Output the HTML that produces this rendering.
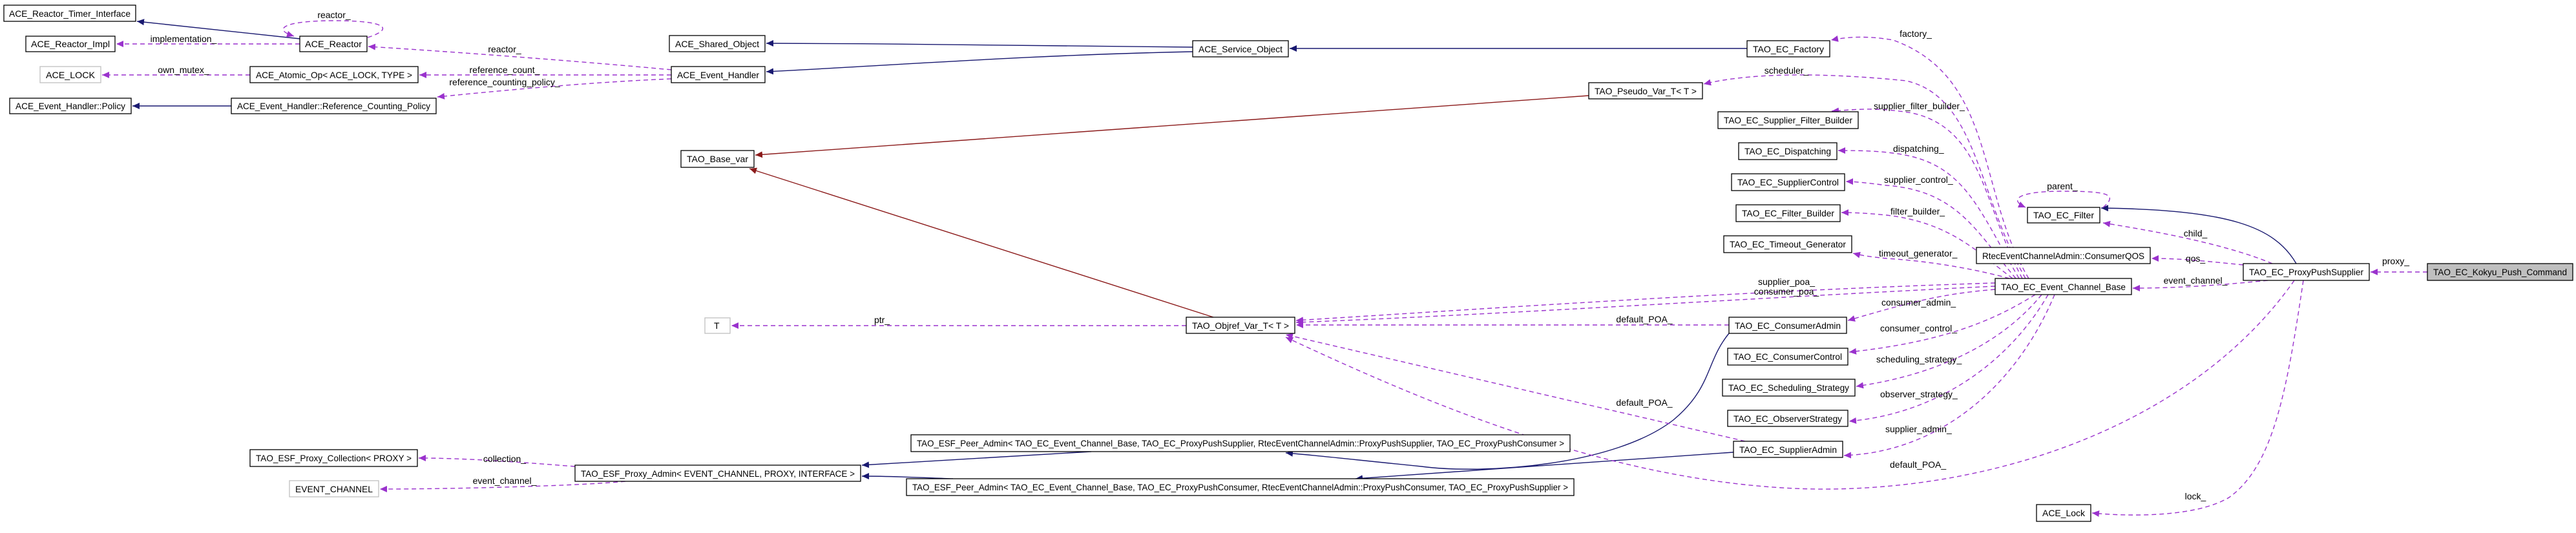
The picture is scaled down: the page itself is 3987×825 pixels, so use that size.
<!DOCTYPE html>
<html><head><meta charset="utf-8"><style>
html,body{margin:0;padding:0;background:#fff;}
svg{display:block;}
text{font-family:"Liberation Sans",sans-serif;font-size:14px;fill:#000;}
.b{fill:#fff;stroke:#000;stroke-width:1.3;}
.g{fill:#fff;stroke:#bfbfbf;stroke-width:1.3;}
.n{fill:none;stroke:#191970;stroke-width:1.4;}
.r{fill:none;stroke:#8b1a1a;stroke-width:1.4;}
.p{fill:none;stroke:#9a32cd;stroke-width:1.4;stroke-dasharray:7,5;}
</style></head><body>
<svg width="3987" height="825" viewBox="0 0 3987 825" xmlns="http://www.w3.org/2000/svg">
<defs>
<marker id="mn" markerUnits="userSpaceOnUse" markerWidth="12" markerHeight="10" refX="11" refY="5" orient="auto"><path d="M0,0 L11,5 L0,10 Z" fill="#191970"/></marker>
<marker id="mr" markerUnits="userSpaceOnUse" markerWidth="12" markerHeight="10" refX="11" refY="5" orient="auto"><path d="M0,0 L11,5 L0,10 Z" fill="#8b1a1a"/></marker>
<marker id="mp" markerUnits="userSpaceOnUse" markerWidth="12" markerHeight="10" refX="11" refY="5" orient="auto"><path d="M0,0 L11,5 L0,10 Z" fill="#9a32cd"/></marker>
</defs>

<!-- navy edges -->
<g class="n" marker-end="url(#mn)">
<path d="M464,60 L212,33"/>
<path d="M358,164 L205,164"/>
<path d="M1846,73 C1600,72 1400,67 1186,67"/>
<path d="M1846,80 C1600,85 1400,100 1186,111"/>
<path d="M2704,75 L1996,75"/>
<path d="M2676,516 C2640,560 2650,600 2590,650 C2500,720 2300,735 2200,722 C2100,712 2040,705 1990,701"/>
<path d="M2683,700 L2098,741"/>
<path d="M1689,699 L1334,720"/>
<path d="M1475,741 C1420,739 1380,737 1334,737"/>
<path d="M3554,408 C3520,350 3450,325 3252,322"/>
</g>
<!-- red edges -->
<g class="r" marker-end="url(#mr)">
<path d="M2459,148 L1169,240"/>
<path d="M1878,491 L1160,261"/>
</g>
<!-- purple dashed edges -->
<g class="p" marker-end="url(#mp)">
<path d="M464,68 L180,68"/>
<path d="M569,58 C610,45 600,32 517,32 C440,32 420,45 455,56"/>
<path d="M1039,108 C900,95 700,80 570,72"/>
<path d="M387,116 L158,116"/>
<path d="M1039,116 L649,116"/>
<path d="M1039,122 C900,128 780,140 677,150"/>
<path d="M1836,504 L1132,504"/>
<path d="M3088,438 C2700,450 2300,478 2006,496"/>
<path d="M3088,443 C2700,462 2300,488 2006,499"/>
<path d="M2676,503 L2006,503"/>
<path d="M2701,683 L1990,518"/>
<path d="M3551,434 C3400,650 3100,760 2810,757 C2500,752 2200,620 1990,522"/>
<path d="M890,722 C800,715 720,709 648,709"/>
<path d="M968,745 C900,752 700,757 588,757"/>
<path d="M3140,431 C3060,300 3090,120 2930,62 C2890,55 2860,57 2834,62"/>
<path d="M3135,431 C3060,300 3060,150 2950,125 C2800,110 2700,115 2637,130"/>
<path d="M3130,431 C3070,320 3070,200 2960,175 C2900,165 2870,170 2835,172"/>
<path d="M3125,431 C3060,320 3040,250 2930,237 C2900,233 2870,233 2845,233"/>
<path d="M3120,431 C3060,360 3030,295 2920,287 C2890,283 2870,281 2857,281"/>
<path d="M3115,431 C3060,390 3020,345 2920,333 C2890,330 2870,329 2850,329"/>
<path d="M3110,431 C3070,420 3000,405 2920,400 C2890,397 2880,395 2868,392"/>
<path d="M3088,448 C3000,455 2950,470 2860,496"/>
<path d="M3150,456 C3080,500 3000,530 2862,545"/>
<path d="M3160,456 C3100,530 3000,580 2873,598"/>
<path d="M3170,456 C3110,560 3000,640 2862,652"/>
<path d="M3180,456 C3120,600 3000,700 2854,705"/>
<path d="M3510,434 C3450,440 3380,446 3301,446"/>
<path d="M3517,408 C3450,380 3350,360 3255,345"/>
<path d="M3472,410 C3420,405 3380,400 3330,400"/>
<path d="M3255,321 C3280,300 3260,296 3192,296 C3120,296 3110,310 3135,321"/>
<path d="M3757,421 L3669,421"/>
<path d="M3565,434 C3540,600 3520,720 3450,770 C3400,800 3300,800 3238,794"/>
</g>

<!-- edge labels -->
<g text-anchor="middle">
<text x="517" y="28">reactor_</text>
<text x="284" y="65">implementation_</text>
<text x="781" y="81">reactor_</text>
<text x="284" y="113">own_mutex_</text>
<text x="781" y="113">reference_count_</text>
<text x="781" y="132">reference_counting_policy_</text>
<text x="1365" y="500">ptr_</text>
<text x="2965" y="57">factory_</text>
<text x="2765" y="114">scheduler_</text>
<text x="2765" y="441">supplier_poa_</text>
<text x="2765" y="456">consumer_poa_</text>
<text x="2545" y="499">default_POA_</text>
<text x="2545" y="628">default_POA_</text>
<text x="3192" y="293">parent_</text>
<text x="3398" y="366">child_</text>
<text x="3398" y="405">qos_</text>
<text x="3708" y="409">proxy_</text>
<text x="3398" y="439">event_channel_</text>
<text x="3398" y="773">lock_</text>
<text x="781" y="715">collection_</text>
<text x="781" y="749">event_channel_</text>
</g>
<g text-anchor="start">
<text x="2900" y="169">supplier_filter_builder_</text>
<text x="2930" y="235">dispatching_</text>
<text x="2916" y="283">supplier_control_</text>
<text x="2926" y="332">filter_builder_</text>
<text x="2908" y="397">timeout_generator_</text>
<text x="2912" y="473">consumer_admin_</text>
<text x="2910" y="513">consumer_control_</text>
<text x="2904" y="561">scheduling_strategy_</text>
<text x="2910" y="615">observer_strategy_</text>
<text x="2918" y="669">supplier_admin_</text>
<text x="2925" y="724">default_POA_</text>
</g>

<!-- boxes -->
<g>
<rect class="b" x="6" y="8" width="204" height="25"/><text x="14" y="26" textLength="188" lengthAdjust="spacingAndGlyphs">ACE_Reactor_Timer_Interface</text>
<rect class="b" x="40" y="56" width="138" height="24"/><text x="48" y="73" textLength="122" lengthAdjust="spacingAndGlyphs">ACE_Reactor_Impl</text>
<rect class="b" x="464" y="56" width="104" height="24"/><text x="472" y="73" textLength="88" lengthAdjust="spacingAndGlyphs">ACE_Reactor</text>
<rect class="g" x="62" y="103" width="94" height="25"/><text x="71" y="121" textLength="76" lengthAdjust="spacingAndGlyphs">ACE_LOCK</text>
<rect class="b" x="387" y="103" width="260" height="25"/><text x="396" y="121" textLength="242" lengthAdjust="spacingAndGlyphs">ACE_Atomic_Op&lt; ACE_LOCK, TYPE &gt;</text>
<rect class="b" x="15" y="152" width="188" height="24"/><text x="24" y="169" textLength="170" lengthAdjust="spacingAndGlyphs">ACE_Event_Handler::Policy</text>
<rect class="b" x="358" y="152" width="317" height="24"/><text x="367" y="169" textLength="299" lengthAdjust="spacingAndGlyphs">ACE_Event_Handler::Reference_Counting_Policy</text>
<rect class="b" x="1036" y="55" width="148" height="25"/><text x="1045" y="73" textLength="130" lengthAdjust="spacingAndGlyphs">ACE_Shared_Object</text>
<rect class="b" x="1039" y="103" width="145" height="25"/><text x="1048" y="121" textLength="127" lengthAdjust="spacingAndGlyphs">ACE_Event_Handler</text>
<rect class="b" x="1846" y="63" width="148" height="25"/><text x="1855" y="81" textLength="130" lengthAdjust="spacingAndGlyphs">ACE_Service_Object</text>
<rect class="b" x="2704" y="63" width="128" height="25"/><text x="2713" y="81" textLength="110" lengthAdjust="spacingAndGlyphs">TAO_EC_Factory</text>
<rect class="b" x="2459" y="128" width="176" height="25"/><text x="2468" y="146" textLength="158" lengthAdjust="spacingAndGlyphs">TAO_Pseudo_Var_T&lt; T &gt;</text>
<rect class="b" x="1054" y="233" width="113" height="26"/><text x="1063" y="251" textLength="95" lengthAdjust="spacingAndGlyphs">TAO_Base_var</text>
<rect class="b" x="2659" y="173" width="217" height="26"/><text x="2668" y="191" textLength="199" lengthAdjust="spacingAndGlyphs">TAO_EC_Supplier_Filter_Builder</text>
<rect class="b" x="2691" y="221" width="152" height="26"/><text x="2700" y="239" textLength="134" lengthAdjust="spacingAndGlyphs">TAO_EC_Dispatching</text>
<rect class="b" x="2680" y="269" width="175" height="26"/><text x="2689" y="287" textLength="157" lengthAdjust="spacingAndGlyphs">TAO_EC_SupplierControl</text>
<rect class="b" x="2687" y="317" width="161" height="26"/><text x="2696" y="335" textLength="143" lengthAdjust="spacingAndGlyphs">TAO_EC_Filter_Builder</text>
<rect class="b" x="2668" y="365" width="198" height="26"/><text x="2677" y="383" textLength="180" lengthAdjust="spacingAndGlyphs">TAO_EC_Timeout_Generator</text>
<rect class="b" x="3138" y="321" width="112" height="24"/><text x="3147" y="338" textLength="94" lengthAdjust="spacingAndGlyphs">TAO_EC_Filter</text>
<rect class="b" x="3059" y="383" width="269" height="25"/><text x="3068" y="401" textLength="251" lengthAdjust="spacingAndGlyphs">RtecEventChannelAdmin::ConsumerQOS</text>
<rect class="b" x="3472" y="408" width="195" height="26"/><text x="3481" y="426" textLength="177" lengthAdjust="spacingAndGlyphs">TAO_EC_ProxyPushSupplier</text>
<rect x="3757" y="408" width="225" height="26" fill="#bfbfbf" stroke="#000" stroke-width="1.3"/><text x="3766" y="426" textLength="207" lengthAdjust="spacingAndGlyphs">TAO_EC_Kokyu_Push_Command</text>
<rect class="b" x="3088" y="431" width="211" height="25"/><text x="3097" y="449" textLength="193" lengthAdjust="spacingAndGlyphs">TAO_EC_Event_Channel_Base</text>
<rect class="g" x="1091" y="492" width="39" height="24"/><text x="1105" y="509">T</text>
<rect class="b" x="1836" y="491" width="168" height="25"/><text x="1845" y="509" textLength="150" lengthAdjust="spacingAndGlyphs">TAO_Objref_Var_T&lt; T &gt;</text>
<rect class="b" x="2676" y="491" width="182" height="25"/><text x="2685" y="509" textLength="164" lengthAdjust="spacingAndGlyphs">TAO_EC_ConsumerAdmin</text>
<rect class="b" x="2674" y="539" width="186" height="26"/><text x="2683" y="557" textLength="168" lengthAdjust="spacingAndGlyphs">TAO_EC_ConsumerControl</text>
<rect class="b" x="2666" y="587" width="205" height="26"/><text x="2675" y="605" textLength="187" lengthAdjust="spacingAndGlyphs">TAO_EC_Scheduling_Strategy</text>
<rect class="b" x="2674" y="635" width="186" height="25"/><text x="2683" y="653" textLength="168" lengthAdjust="spacingAndGlyphs">TAO_EC_ObserverStrategy</text>
<rect class="b" x="2683" y="683" width="169" height="25"/><text x="2692" y="701" textLength="151" lengthAdjust="spacingAndGlyphs">TAO_EC_SupplierAdmin</text>
<rect class="b" x="1410" y="673" width="1020" height="26"/><text x="1419" y="691" textLength="1002" lengthAdjust="spacingAndGlyphs">TAO_ESF_Peer_Admin&lt; TAO_EC_Event_Channel_Base, TAO_EC_ProxyPushSupplier, RtecEventChannelAdmin::ProxyPushSupplier, TAO_EC_ProxyPushConsumer &gt;</text>
<rect class="b" x="387" y="696" width="259" height="26"/><text x="396" y="714" textLength="241" lengthAdjust="spacingAndGlyphs">TAO_ESF_Proxy_Collection&lt; PROXY &gt;</text>
<rect class="b" x="890" y="720" width="442" height="25"/><text x="899" y="738" textLength="424" lengthAdjust="spacingAndGlyphs">TAO_ESF_Proxy_Admin&lt; EVENT_CHANNEL, PROXY, INTERFACE &gt;</text>
<rect class="g" x="448" y="744" width="138" height="25"/><text x="457" y="762" textLength="120" lengthAdjust="spacingAndGlyphs">EVENT_CHANNEL</text>
<rect class="b" x="1403" y="741" width="1033" height="26"/><text x="1412" y="759" textLength="1015" lengthAdjust="spacingAndGlyphs">TAO_ESF_Peer_Admin&lt; TAO_EC_Event_Channel_Base, TAO_EC_ProxyPushConsumer, RtecEventChannelAdmin::ProxyPushConsumer, TAO_EC_ProxyPushSupplier &gt;</text>
<rect class="b" x="3152" y="781" width="84" height="26"/><text x="3161" y="799" textLength="66" lengthAdjust="spacingAndGlyphs">ACE_Lock</text>
</g>
</svg>
</body></html>
